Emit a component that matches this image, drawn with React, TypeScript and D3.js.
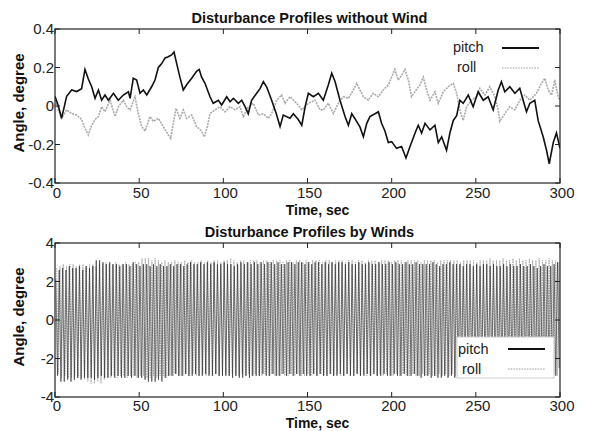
import React from "react";
import * as d3 from "d3";

// ---------- Data: top panel (no wind), [time sec, angle deg] ----------
const calmPitch: [number, number][] = [
  [0, 0.05], [2, 0.0], [3.9, -0.064], [6.9, 0.05], [9.9, 0.083], [12.9, 0.075], [15.8, 0.09], [17.8, 0.19],
  [19.8, 0.14], [21.8, 0.1], [23.8, 0.04], [25.8, 0.083], [27.7, 0.03], [29.7, 0.057], [31.7, 0.03], [34.7, 0.066],
  [37.6, 0.03], [40.6, 0.057], [43.6, 0.074], [44.6, 0.04], [46.5, 0.144], [48.5, 0.135], [50.5, 0.066], [52.5, 0.083],
  [54.5, 0.057], [57.4, 0.1], [59.4, 0.135], [61.4, 0.2], [63.4, 0.22], [65.4, 0.25], [67.3, 0.256], [69.3, 0.265],
  [70.7, 0.28], [72.3, 0.22], [74.2, 0.15], [76.2, 0.083], [78.2, 0.11], [81.2, 0.144], [84.1, 0.18], [85.7, 0.19],
  [87.1, 0.15], [89.1, 0.118], [92.1, 0.048], [94.0, 0.014], [97.0, 0.03], [99.0, 0.005], [102.0, 0.048], [104, 0.022],
  [106, 0.04], [108.9, 0.014], [110.9, 0.03], [112.9, -0.003], [114.8, -0.04], [116.8, 0.03], [119.8, 0.066], [121.8, 0.09],
  [123.8, 0.126], [125.7, 0.1], [128.7, 0.03], [131.7, -0.047], [133.7, -0.107], [135.6, -0.047], [139.6, -0.064], [141.6, -0.04],
  [144.5, -0.07], [146.6, -0.1], [148.6, -0.004], [150.5, 0.066], [153.5, 0.048], [156.5, 0.066], [159.4, 0.03], [162.4, 0.11],
  [164.4, 0.17], [166.4, 0.126], [169.3, 0.03], [172.3, -0.055], [174.3, -0.1], [176.3, -0.04], [178.2, -0.066], [181.2, -0.11],
  [183.2, -0.16], [185.2, -0.09], [187.1, -0.055], [190.1, -0.04], [192.1, -0.03], [194, -0.09], [196, -0.13], [198, -0.19],
  [200, -0.185], [202.9, -0.22], [205.9, -0.21], [208.5, -0.27], [210.9, -0.21], [213.9, -0.14], [215.8, -0.1], [217.8, -0.14],
  [219.8, -0.09], [222.8, -0.124], [225.7, -0.1], [227.7, -0.19], [229.7, -0.16], [232.6, -0.23], [234.6, -0.14], [236.6, -0.075],
  [238.6, -0.05], [240.5, 0.03], [242.5, 0.014], [245.5, 0.057], [248.4, -0.004], [251.4, 0.074], [254.4, 0.03], [257.3, 0.048],
  [260.3, -0.02], [263.3, 0.083], [265.2, 0.126], [267.2, 0.074], [270.2, 0.1], [273.2, 0.066], [276.1, 0.092], [278.1, 0.03],
  [280.1, -0.03], [282.1, 0.014], [285, 0.03], [287, -0.075], [290, -0.16], [292, -0.23], [293.6, -0.3], [296, -0.19],
  [297.9, -0.14], [300, -0.22],
];

const calmRoll: [number, number][] = [
  [0, 0.03], [2, -0.02], [3.9, -0.064], [6.9, -0.02], [9.9, -0.04], [12.9, -0.047], [15.8, -0.07], [17.8, -0.115],
  [19.8, -0.15], [21.8, -0.1], [23.8, -0.07], [25.8, -0.055], [27.7, -0.004], [29.7, -0.03], [32.7, 0.03], [35.7, -0.055],
  [37.6, -0.004], [40.6, 0.03], [42.6, -0.004], [44.6, -0.02], [47.5, 0.048], [49.5, -0.04], [51.5, -0.107], [53.5, -0.13],
  [56.4, -0.055], [58.4, -0.08], [61.4, -0.064], [64.3, -0.107], [67.3, -0.15], [68.7, -0.168], [70.3, -0.09], [71.9, -0.012],
  [74.2, -0.064], [76.2, -0.02], [78.2, -0.064], [81.2, -0.047], [84.1, -0.107], [87.1, -0.13], [88.7, -0.16], [90.5, -0.107],
  [92.1, -0.04], [95, -0.02], [98, -0.004], [101, -0.03], [104, -0.004], [106.9, -0.02], [109.9, -0.004], [111.9, -0.055],
  [114.8, -0.004], [117.8, 0.014], [120.8, -0.047], [123.8, -0.04], [126.7, -0.064], [128.7, -0.04], [131.7, 0.03], [134.6, 0.057],
  [136.6, 0.014], [139.6, 0.048], [143.6, 0.014], [146.6, -0.02], [150.5, 0.014], [154.5, 0.03], [157.4, -0.02], [159.4, -0.02],
  [162.4, 0.014], [165.4, -0.04], [168.3, 0.014], [171.3, 0.048], [174.3, 0.04], [177.2, 0.083], [179.2, 0.118], [181.2, 0.083],
  [183.2, 0.048], [186.1, 0.03], [189.1, 0.066], [192.1, 0.048], [195, 0.083], [198, 0.11], [200, 0.15], [201.9, 0.19],
  [203.9, 0.135], [205.9, 0.16], [207.9, 0.19], [209.9, 0.135], [211.8, 0.048], [213.8, 0.074], [216.8, 0.11], [218.8, 0.15],
  [220.8, 0.083], [222.8, 0.03], [225.7, 0.074], [227.7, 0.014], [230.7, 0.074], [233.6, 0.1], [236.6, 0.118], [238.6, 0.066],
  [240.5, -0.02], [242.5, -0.075], [244.5, -0.004], [247.4, 0.03], [250.4, 0.048], [252.4, 0.092], [255.4, 0.057], [258.3, 0.1],
  [261.3, 0.048], [263.3, -0.02], [264.2, -0.08], [267.2, -0.04], [270.2, -0.004], [273.2, -0.02], [276.1, 0.03], [279.1, 0.057],
  [282.1, 0.03], [286, 0.066], [289, 0.118], [291, 0.144], [293, 0.083], [295, 0.057], [296.9, 0.135], [298.9, 0.048], [300, 0.03],
];

// ---------- Data: bottom panel (winds), per-cycle extremes ----------
const windPitchPeriod = 2.0;
const windPitchPeaks = [
  2.1, 2.6, 2.7, 2.6, 2.8, 2.7, 2.7, 2.8, 2.6, 2.8,
  2.7, 2.8, 3.1, 3.1, 3.0, 2.9, 3.0, 2.9, 2.9, 2.8,
  2.9, 2.9, 2.8, 3.0, 2.9, 2.8, 2.9, 2.9, 2.8, 2.9,
  2.8, 2.9, 2.8, 2.8, 2.9, 2.8, 2.9, 2.9, 2.8, 2.9,
  3.0, 2.9, 2.9, 3.0, 2.9, 3.0, 2.9, 3.0, 2.9, 2.9,
  3.0, 2.9, 2.9, 2.8, 2.9, 3.0, 2.9, 3.0, 2.9, 3.0,
  2.9, 3.0, 2.9, 3.0, 3.0, 2.9, 3.0, 2.9, 2.9, 3.0,
  3.0, 2.9, 3.0, 3.0, 2.9, 3.0, 2.9, 3.0, 3.0, 2.9,
  3.0, 2.9, 3.0, 2.9, 3.0, 3.0, 2.9, 3.0, 2.9, 2.9,
  3.0, 2.9, 2.9, 3.0, 2.9, 2.9, 3.0, 2.9, 2.9, 3.0,
  2.9, 3.0, 2.9, 2.9, 3.0, 2.9, 2.9, 3.0, 2.9, 2.9,
  2.9, 2.9, 3.0, 2.9, 2.8, 2.9, 2.9, 3.0, 2.9, 2.9,
  2.9, 2.8, 2.9, 2.9, 2.8, 2.9, 2.8, 2.9, 2.9, 2.8,
  2.9, 2.8, 2.8, 2.9, 2.8, 2.9, 2.8, 2.8, 2.9, 2.8,
  2.8, 2.9, 2.8, 2.7, 2.8, 2.9, 2.8, 2.8, 2.9, 3.0,
];
const windPitchTroughs = [
  -2.9, -3.2, -3.2, -3.1, -3.2, -3.1, -3.0, -3.1, -3.0, -3.0,
  -3.0, -3.1, -3.0, -2.9, -3.0, -3.0, -2.9, -3.0, -2.9, -3.0,
  -3.0, -2.9, -3.0, -2.9, -3.0, -3.0, -3.1, -3.2, -3.2, -3.2,
  -3.1, -3.2, -3.0, -2.9, -2.9, -2.8, -2.9, -2.9, -2.8, -2.9,
  -2.9, -2.8, -2.9, -2.9, -2.8, -2.9, -2.9, -2.8, -2.9, -2.9,
  -2.9, -2.9, -3.0, -2.9, -3.0, -3.0, -2.9, -3.0, -2.9, -2.9,
  -2.9, -2.8, -2.9, -2.9, -2.8, -2.9, -2.9, -2.8, -2.9, -2.8,
  -2.9, -2.8, -2.9, -2.8, -2.9, -2.9, -2.8, -2.9, -2.8, -2.9,
  -2.9, -2.8, -2.9, -2.9, -2.8, -2.9, -2.8, -2.9, -2.9, -2.8,
  -2.9, -2.9, -2.8, -2.9, -2.8, -2.9, -2.9, -2.8, -2.9, -2.9,
  -2.8, -2.9, -2.9, -2.8, -2.9, -2.9, -2.8, -2.9, -3.0, -2.9,
  -2.9, -3.0, -2.9, -3.0, -3.0, -2.9, -3.0, -2.9, -3.0, -3.0,
  -3.0, -2.9, -3.0, -2.9, -3.0, -3.0, -2.9, -3.0, -3.0, -2.9,
  -3.0, -2.9, -2.9, -3.0, -2.9, -3.0, -2.9, -2.9, -3.0, -2.9,
  -3.0, -2.9, -3.0, -2.9, -3.0, -2.9, -2.9, -3.0, -2.9, -2.5,
];

const windRollPeriod = 1.95;
const windRollPeaks = [
  2.7, 2.8, 2.9, 2.8, 2.9, 2.9, 2.8, 2.9, 2.9, 2.8,
  2.9, 2.9, 2.8, 2.9, 2.9, 3.0, 2.9, 2.9, 3.0, 2.9,
  2.9, 3.0, 2.9, 2.9, 3.0, 3.0, 3.2, 3.2, 3.2, 3.1,
  3.2, 3.1, 3.0, 3.1, 3.0, 3.0, 3.1, 3.0, 3.0, 3.1,
  3.0, 3.1, 3.0, 3.0, 3.1, 3.0, 3.1, 3.0, 3.1, 3.1,
  3.0, 3.1, 3.1, 3.2, 3.1, 3.0, 3.1, 3.1, 3.0, 3.1,
  3.1, 3.1, 3.0, 3.1, 3.1, 3.0, 3.1, 3.1, 3.1, 3.0,
  3.1, 3.1, 3.0, 3.1, 3.1, 3.0, 3.1, 3.0, 3.1, 3.1,
  3.1, 3.0, 3.1, 3.1, 3.0, 3.1, 3.1, 3.1, 3.0, 3.1,
  3.1, 3.0, 3.1, 3.1, 3.0, 3.1, 3.1, 3.1, 3.0, 3.1,
  3.1, 3.1, 3.0, 3.1, 3.1, 3.1, 3.0, 3.1, 3.1, 3.1,
  3.1, 3.0, 3.1, 3.1, 3.1, 3.1, 3.0, 3.1, 3.1, 3.1,
  3.1, 3.1, 3.1, 3.0, 3.1, 3.1, 3.1, 3.1, 3.0, 3.1,
  3.1, 3.1, 3.2, 3.1, 3.1, 3.1, 3.2, 3.1, 3.1, 3.2,
  3.1, 3.2, 3.1, 3.1, 3.2, 3.1, 3.1, 3.2, 3.1, 3.1,
  3.2, 3.1, 3.1, 3.0,
];
const windRollTroughs = [
  -2.8, -3.0, -2.9, -3.0, -3.0, -2.9, -3.0, -3.0, -3.1, -3.2,
  -3.3, -3.3, -3.2, -3.3, -3.1, -3.0, -3.0, -2.9, -3.0, -2.9,
  -2.9, -3.0, -2.9, -2.9, -3.0, -2.9, -2.9, -3.0, -3.0, -2.9,
  -3.0, -2.9, -2.9, -3.0, -2.9, -2.9, -2.8, -2.9, -2.9, -2.8,
  -2.9, -2.8, -2.9, -2.9, -2.8, -2.9, -2.8, -2.9, -2.8, -2.9,
  -2.9, -2.8, -2.9, -2.8, -2.9, -2.9, -2.8, -2.9, -2.8, -2.9,
  -2.8, -2.9, -2.9, -2.8, -2.9, -2.8, -2.9, -2.9, -2.8, -2.9,
  -2.9, -2.8, -2.9, -2.8, -2.9, -2.9, -2.8, -2.9, -2.8, -2.9,
  -2.8, -2.9, -2.9, -2.8, -2.9, -2.8, -2.9, -2.9, -2.8, -2.9,
  -2.9, -2.8, -2.9, -2.8, -2.9, -2.9, -2.8, -2.9, -2.8, -2.9,
  -2.8, -2.9, -2.9, -2.8, -2.9, -2.8, -2.9, -2.9, -2.8, -2.9,
  -2.9, -2.8, -2.9, -2.8, -2.9, -2.9, -2.8, -2.9, -2.8, -2.9,
  -2.8, -2.9, -2.9, -2.8, -2.9, -2.8, -2.9, -2.9, -2.8, -2.9,
  -2.9, -2.8, -2.9, -2.8, -2.9, -2.9, -2.8, -2.9, -2.8, -2.9,
  -2.8, -2.9, -2.9, -2.8, -2.9, -2.8, -2.9, -2.9, -2.8, -2.9,
  -2.9, -2.8, -2.9, -2.9,
];

const xTicks = [0, 50, 100, 150, 200, 250, 300];
const topYTicks = [-0.4, -0.2, 0, 0.2, 0.4];
const topYLabels = ["-0.4", "-0.2", "0", "0.2", "0.4"];
const botYTicks = [-4, -2, 0, 2, 4];
const botYLabels = ["-4", "-2", "0", "2", "4"];

const W = 591;
const H = 431;
const FONT = "'Liberation Sans', Arial, Helvetica, sans-serif";

function buildWind(peaks: number[], troughs: number[], period: number, offset: number): [number, number][] {
  const pts: [number, number][] = [];
  peaks.forEach((p, i) => {
    pts.push([offset + i * period, p]);
    if (i < troughs.length) pts.push([offset + i * period + period / 2, troughs[i]]);
  });
  return pts;
}

type PanelProps = {
  id: string;
  top: number;
  bottom: number;
  yDomain: [number, number];
  yTicks: number[];
  yLabels: string[];
  title: string;
  titleY: number;
  xLabelY: number;
  xTitleY: number;
  children: (x: d3.ScaleLinear<number, number>, y: d3.ScaleLinear<number, number>) => React.ReactNode;
};

const LEFT = 55;
const RIGHT = 560;

function Panel(p: PanelProps) {
  const x = d3.scaleLinear().domain([0, 300]).range([LEFT, RIGHT]);
  const y = d3.scaleLinear().domain(p.yDomain).range([p.bottom, p.top]);
  const tick = 5;
  return (
    <g>
      <defs>
        <clipPath id={p.id}>
          <rect x={LEFT} y={p.top} width={RIGHT - LEFT} height={p.bottom - p.top} />
        </clipPath>
      </defs>
      <rect x={LEFT} y={p.top} width={RIGHT - LEFT} height={p.bottom - p.top} fill="#fff" />
      <g clipPath={`url(#${p.id})`}>{p.children(x, y)}</g>
      {xTicks.map((t) => (
        <g key={"xt" + t}>
          <line x1={x(t)} x2={x(t)} y1={p.bottom} y2={p.bottom - tick} stroke="#222" />
          <line x1={x(t)} x2={x(t)} y1={p.top} y2={p.top + tick} stroke="#222" />
          <text x={x(t) + 2} y={p.xLabelY} textAnchor="middle" fontSize={15} fontFamily={FONT} fill="#222">
            {t}
          </text>
        </g>
      ))}
      {p.yTicks.map((t, i) => (
        <g key={"yt" + t}>
          <line x1={LEFT} x2={LEFT + tick} y1={y(t)} y2={y(t)} stroke="#222" />
          <line x1={RIGHT} x2={RIGHT - tick} y1={y(t)} y2={y(t)} stroke="#222" />
          <text x={LEFT - 1} y={y(t) + 5} textAnchor="end" fontSize={15} fontFamily={FONT} fill="#222">
            {p.yLabels[i]}
          </text>
        </g>
      ))}
      <rect x={LEFT} y={p.top} width={RIGHT - LEFT} height={p.bottom - p.top} fill="none" stroke="#222" strokeWidth={1.2} />
      <text x={(LEFT + RIGHT) / 2 + 2} y={p.titleY} textAnchor="middle" fontSize={14.5} fontWeight="bold" fontFamily={FONT} fill="#111">
        {p.title}
      </text>
      <text x={(LEFT + RIGHT) / 2 + 10} y={p.xTitleY} textAnchor="middle" fontSize={14} fontWeight="bold" fontFamily={FONT} fill="#111">
        Time, sec
      </text>
      <text
        transform={`translate(24,${(p.top + p.bottom) / 2 - 3}) rotate(-90)`}
        textAnchor="middle"
        fontSize={15}
        fontWeight="bold"
        fontFamily={FONT}
        fill="#111"
      >
        Angle, degree
      </text>
    </g>
  );
}

export default function App() {
  const windPitch = buildWind(windPitchPeaks, windPitchTroughs, windPitchPeriod, 0.5);
  const windRoll = buildWind(windRollPeaks, windRollTroughs, windRollPeriod, 1.0);

  return (
    <svg width={W} height={H} style={{ position: "absolute", left: 0, top: 0, background: "#fff" }}>
      <rect x={0} y={0} width={W} height={H} fill="#fff" />
      <Panel
        id="clipTop"
        top={29}
        bottom={183}
        yDomain={[-0.4, 0.4]}
        yTicks={topYTicks}
        yLabels={topYLabels}
        title="Disturbance Profiles without Wind"
        titleY={23}
        xLabelY={198}
        xTitleY={215}
      >
        {(x, y) => {
          const line = d3
            .line<[number, number]>()
            .x((d) => x(d[0]))
            .y((d) => y(d[1]));
          return (
            <g>
              <path d={line(calmRoll) || ""} fill="none" stroke="#aaa" strokeWidth={1.6} strokeDasharray="2,1" />
              <path d={line(calmPitch) || ""} fill="none" stroke="#111" strokeWidth={1.6} />
            </g>
          );
        }}
      </Panel>
      <Panel
        id="clipBot"
        top={243}
        bottom={397}
        yDomain={[-4, 4]}
        yTicks={botYTicks}
        yLabels={botYLabels}
        title="Disturbance Profiles by Winds"
        titleY={237}
        xLabelY={411}
        xTitleY={428}
      >
        {(x, y) => {
          const line = d3
            .line<[number, number]>()
            .x((d) => x(d[0]))
            .y((d) => y(d[1]));
          return (
            <g>
              <path d={line(windRoll) || ""} fill="none" stroke="#aaa" strokeWidth={1} strokeDasharray="1.5,1" />
              <path d={line(windPitch) || ""} fill="none" stroke="#222" strokeOpacity={0.85} strokeWidth={0.7} />
            </g>
          );
        }}
      </Panel>

      {/* top legend */}
      <g fontFamily={FONT} fontSize={14.5} fill="#222">
        <text x={453} y={52}>pitch</text>
        <line x1={502} x2={539} y1={48} y2={48} stroke="#111" strokeWidth={1.8} />
        <text x={457} y={72}>roll</text>
        <line x1={502} x2={539} y1={68} y2={68} stroke="#999" strokeWidth={1.2} strokeDasharray="1.5,1.2" />
      </g>

      {/* bottom legend */}
      <g fontFamily={FONT} fontSize={14.5} fill="#222">
        <rect x={457} y={337} width={97} height={41} fill="#fff" stroke="#ccc" strokeWidth={1} />
        <text x={458} y={354}>pitch</text>
        <line x1={508} x2={545} y1={349} y2={349} stroke="#111" strokeWidth={1.8} />
        <text x={462} y={374}>roll</text>
        <line x1={508} x2={545} y1={369} y2={369} stroke="#999" strokeWidth={1.2} strokeDasharray="1.5,1.2" />
      </g>
    </svg>
  );
}
